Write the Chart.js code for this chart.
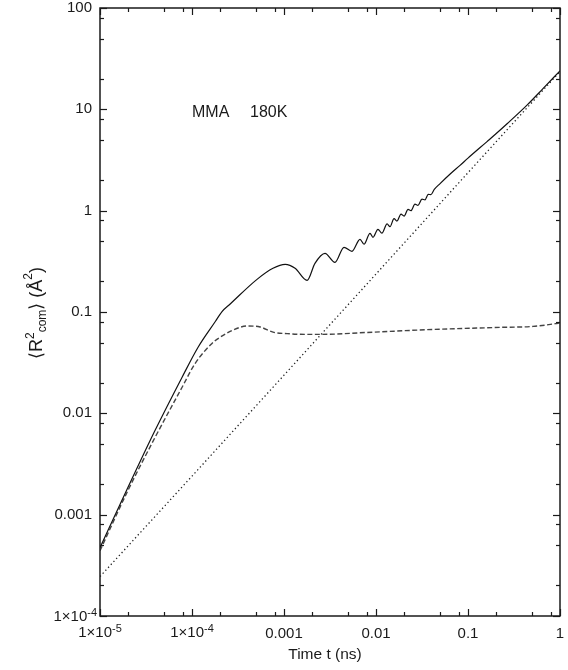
<!DOCTYPE html>
<html><head><meta charset="utf-8">
<script src="https://cdn.jsdelivr.net/npm/chart.js@4/dist/chart.umd.min.js"></script>
<style>html,body{margin:0;padding:0;background:#fff;}</style>
</head><body>
<canvas id="c" width="568" height="670" style="width:568px;height:670px;display:block"></canvas>
<script>
// ---- data ----
const xTickValues = [1e-5, 1e-4, 1e-3, 1e-2, 1e-1, 1];
const xTickLabels = ["1×10^-5", "1×10^-4", "0.001", "0.01", "0.1", "1"];
const yTickValues = [1e-4, 1e-3, 1e-2, 1e-1, 1, 10, 100];
const yTickLabels = ["1×10^-4", "0.001", "0.01", "0.1", "1", "10", "100"];
const minorMultiples = [2, 5, 8];

const solidT = [1e-5, 2.01e-5, 3.96e-5, 7.78e-5, 1.16e-4, 1.8e-4, 2.12e-4, 2.6e-4, 5.09e-4, 7.59e-4, 1.03e-3, 1.32e-3, 1.78e-3, 2.17e-3, 2.79e-3, 3.58e-3, 4.49e-3, 5.48e-3, 6.70e-3, 7.41e-3, 8.61e-3, 9.27e-3, 1.05e-2, 1.16e-2, 1.32e-2, 1.42e-2, 1.57e-2, 1.69e-2, 1.87e-2, 2.02e-2, 2.23e-2, 2.40e-2, 2.65e-2, 2.86e-2, 3.16e-2, 3.41e-2, 3.70e-2, 3.95e-2, 4.3e-2, 4.97e-2, 6.4e-2, 8.19e-2, 0.1, 0.161, 0.2, 0.266, 0.438, 0.653, 1];
const solidR = [4.72e-4, 1.85e-3, 6.76e-3, 0.0226, 0.0447, 0.081, 0.101, 0.120, 0.210, 0.270, 0.295, 0.270, 0.205, 0.302, 0.379, 0.309, 0.435, 0.397, 0.521, 0.466, 0.598, 0.546, 0.655, 0.600, 0.740, 0.695, 0.835, 0.790, 0.925, 0.885, 1.03, 1.00, 1.16, 1.13, 1.30, 1.28, 1.45, 1.44, 1.62, 1.85, 2.3, 2.8, 3.3, 4.8, 5.7, 7.2, 11.0, 16.0, 24];

const dashedT = [1e-5, 2.01e-5, 3.96e-5, 7.78e-5, 1.08e-4, 1.65e-4, 2.0e-4, 2.8e-4, 4.0e-4, 5.5e-4, 7.6e-4, 1.08e-3, 1.49e-3, 2.46e-3, 7.98e-3, 4.17e-2, 0.223, 0.509, 0.927, 1];
const dashedR = [4.41e-4, 1.73e-3, 5.77e-3, 0.0180, 0.0310, 0.0490, 0.0560, 0.0665, 0.0728, 0.0712, 0.0632, 0.0612, 0.0603, 0.0601, 0.0628, 0.0673, 0.0705, 0.0721, 0.0771, 0.078];

const dottedT = [1e-5, 1e-4, 1e-3, 1e-2, 1e-1, 1];
const dottedR = [2.45e-4, 2.4e-3, 0.0238, 0.237, 2.37, 23.6];

const annotation = ["MMA", "180K"];
const xTitle = "Time t (ns)";

// ---- chart ----
const FONT = "'Liberation Sans', Arial, Helvetica, sans-serif";
const pts = (t, r) => t.map((v, i) => ({x: v, y: r[i]}));
const plainLabel = s => (s.indexOf('^') >= 0 ? '' : s);

const framePlugin = {
  id: 'framePlugin',
  afterDraw(chart) {
    const {ctx, chartArea: a, scales: {x, y}} = chart;
    ctx.save();
    ctx.strokeStyle = '#1a1a1a';
    ctx.lineWidth = 1.5;
    ctx.strokeRect(a.left, a.top, a.right - a.left, a.bottom - a.top);
    ctx.lineWidth = 1.2;
    const mark = (x1, y1, x2, y2) => { ctx.beginPath(); ctx.moveTo(x1, y1); ctx.lineTo(x2, y2); ctx.stroke(); };
    xTickValues.forEach(d => {
      [1].concat(minorMultiples).forEach(m => {
        const v = d * m; if (v > x.max * 1.0001) return;
        const px = Math.round(x.getPixelForValue(v)) + 0.5;
        const len = m === 1 ? 7 : 4;
        mark(px, a.bottom, px, a.bottom - len);
        mark(px, a.top, px, a.top + len);
      });
    });
    yTickValues.forEach(d => {
      [1].concat(minorMultiples).forEach(m => {
        const v = d * m; if (v > y.max * 1.0001) return;
        const py = Math.round(y.getPixelForValue(v)) + 0.5;
        const len = m === 1 ? 7 : 4;
        mark(a.left, py, a.left + len, py);
        mark(a.right, py, a.right - len, py);
      });
    });
    ctx.fillStyle = '#1a1a1a';
    ctx.textBaseline = 'alphabetic';
    const bigF = "15px " + FONT, supF = "11px " + FONT;
    // exponent tick labels (x axis)
    xTickLabels.forEach((lab, i) => {
      if (lab.indexOf('^') < 0) return;
      const [b, e] = lab.split('^');
      ctx.font = bigF; const wb = ctx.measureText(b).width;
      ctx.font = supF; const we = ctx.measureText(e).width;
      const cx = x.getPixelForValue(xTickValues[i]);
      const x0 = cx - (wb + we) / 2;
      ctx.textAlign = 'left';
      ctx.font = bigF; ctx.fillText(b, x0, 637);
      ctx.font = supF; ctx.fillText(e, x0 + wb, 632);
    });
    // exponent tick labels (y axis)
    yTickLabels.forEach((lab, i) => {
      if (lab.indexOf('^') < 0) return;
      const [b, e] = lab.split('^');
      ctx.font = supF; const we = ctx.measureText(e).width;
      const cy = y.getPixelForValue(yTickValues[i]);
      const xr = a.left - 3;
      ctx.textAlign = 'right';
      ctx.font = supF; ctx.fillText(e, xr, cy);
      ctx.font = bigF; ctx.fillText(b, xr - we, cy + 5);
    });
    // annotation
    ctx.font = "16px " + FONT;
    ctx.textAlign = 'left';
    ctx.fillText(annotation[0], 192, 117);
    ctx.fillText(annotation[1], 250, 117);
    // x title
    ctx.textAlign = 'center';
    ctx.font = "15.5px " + FONT;
    ctx.fillText(xTitle, 325, 659);
    // y title with super/subscripts
    const big = "18px " + FONT, small = "12px " + FONT;
    const parts = [
      {t: "⟨R", f: big, dy: 0},
      {t: "2", f: small, dy: -8},
      {t: "com", f: small, dy: 4},
      {t: "⟩ (Å", f: big, dy: 0},
      {t: "2", f: small, dy: -10},
      {t: ")", f: big, dy: 0}
    ];
    let total = 0;
    parts.forEach(p => { ctx.font = p.f; p.w = ctx.measureText(p.t).width; total += p.w; });
    ctx.translate(42, 313);
    ctx.rotate(-Math.PI / 2);
    ctx.textAlign = 'left';
    let cx = -total / 2;
    parts.forEach(p => { ctx.font = p.f; ctx.fillText(p.t, cx, p.dy); cx += p.w; });
    ctx.restore();
  }
};

new Chart(document.getElementById('c'), {
  type: 'line',
  data: {
    datasets: [
      {data: pts(solidT, solidR), borderColor: '#111', borderWidth: 1.2, pointRadius: 0, cubicInterpolationMode: 'monotone', fill: false},
      {data: pts(dashedT, dashedR), borderColor: '#444', borderWidth: 1.4, borderDash: [5, 2.5], pointRadius: 0, cubicInterpolationMode: 'monotone', fill: false},
      {data: pts(dottedT, dottedR), borderColor: '#222', borderWidth: 1.3, borderDash: [1.3, 2.7], pointRadius: 0, fill: false}
    ]
  },
  options: {
    responsive: false,
    animation: false,
    devicePixelRatio: 1,
    layout: {padding: {top: 8, right: 8, left: 0, bottom: 0}},
    plugins: {legend: {display: false}, tooltip: {enabled: false}},
    scales: {
      x: {
        type: 'logarithmic', min: 1e-5, max: 1,
        afterBuildTicks: s => { s.ticks = xTickValues.map(v => ({value: v})); },
        afterFit: s => { s.height = 54; s.paddingLeft = 0; s.paddingRight = 0; },
        ticks: {callback: (v, i) => plainLabel(xTickLabels[i]), font: {family: FONT, size: 15}, color: '#1a1a1a', padding: 9, maxRotation: 0, autoSkip: false},
        grid: {display: false, drawTicks: false},
        border: {display: false}
      },
      y: {
        type: 'logarithmic', min: 1e-4, max: 100,
        afterBuildTicks: s => { s.ticks = yTickValues.map(v => ({value: v})); },
        afterFit: s => { s.width = 100; s.paddingTop = 0; s.paddingBottom = 0; },
        ticks: {callback: (v, i) => plainLabel(yTickLabels[i]), font: {family: FONT, size: 15}, color: '#1a1a1a', padding: 8, autoSkip: false},
        grid: {display: false, drawTicks: false},
        border: {display: false}
      }
    }
  },
  plugins: [framePlugin]
});
</script>
</body></html>
